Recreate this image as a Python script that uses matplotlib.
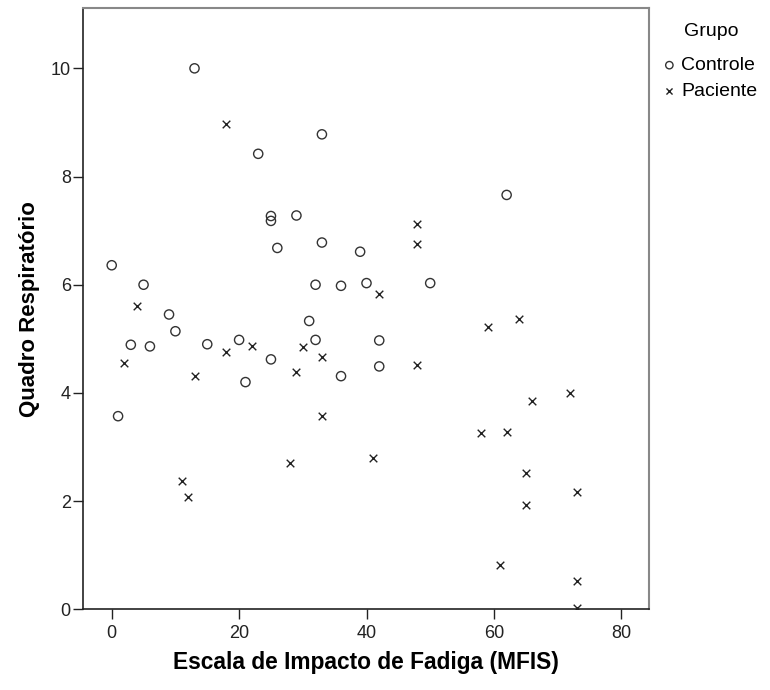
import matplotlib
matplotlib.use("Agg")
import matplotlib.pyplot as plt

plt.rcParams['font.family'] = ['Liberation Sans', 'DejaVu Sans']

# Controle group
ctrl_x = [13, 33, 23, 25, 25, 29, 26, 33, 0, 5, 32, 36, 39, 40, 50, 62,
          9, 31, 10, 3, 6, 15, 20, 21, 25, 32, 36, 1, 42, 42]
ctrl_y = [10.0, 8.78, 8.42, 7.27, 7.18, 7.28, 6.68, 6.78, 6.36, 6.0, 6.0, 5.98, 6.61, 6.03, 6.03, 7.66,
          5.45, 5.33, 5.14, 4.89, 4.86, 4.90, 4.98, 4.20, 4.62, 4.98, 4.31, 3.57, 4.97, 4.49]

# Paciente group
pac_x = [18, 48, 48, 4, 42, 64, 59, 2, 18, 22, 13, 30, 29, 33, 33, 48,
         11, 12, 28, 41, 72, 66, 58, 62, 65, 73, 65, 61, 73, 73]
pac_y = [8.97, 7.13, 6.76, 5.61, 5.83, 5.37, 5.21, 4.55, 4.76, 4.86, 4.31, 4.84, 4.39, 4.66, 3.57, 4.52,
         2.38, 2.08, 2.70, 2.80, 3.99, 3.85, 3.25, 3.27, 2.52, 2.16, 1.92, 0.81, 0.53, 0.02]

x_ticks = [0, 20, 40, 60, 80]
y_ticks = [0, 2, 4, 6, 8, 10]

fig = plt.figure(figsize=(7.7, 6.9), dpi=100)
ax = fig.add_axes([83.3 / 770, 1 - 609.3 / 690, (649 - 83.3) / 770, (609.3 - 8.3) / 690])

ax.scatter(ctrl_x, ctrl_y, s=44, marker='o', facecolors='none', edgecolors='#333333',
           linewidths=1.0, label='Controle', zorder=3)
ax.scatter(pac_x, pac_y, s=30, marker='x', color='#222222', linewidths=1.0,
           label='Paciente', zorder=3)

ax.set_xlim(-4.46, 84.35)
ax.set_ylim(0, 11.11)
ax.set_xticks(x_ticks)
ax.set_yticks(y_ticks)
ax.tick_params(direction='out', length=7, width=1.0, color='#222222',
               labelsize=13, labelcolor='#222222')
ax.tick_params(axis='y', pad=2)
ax.tick_params(axis='x', pad=4)

for side in ['left', 'bottom']:
    ax.spines[side].set_color('#222222')
    ax.spines[side].set_linewidth(1.2)
for side in ['top', 'right']:
    ax.spines[side].set_color('#888888')
    ax.spines[side].set_linewidth(1.5)

ax.set_xlabel('Escala de Impacto de Fadiga (MFIS)', fontsize=16.4, fontweight='bold', labelpad=7)
ax.set_ylabel('Quadro Respiratório', fontsize=16, fontweight='bold', labelpad=8)

leg = ax.legend(loc='upper left', bbox_to_anchor=(664 / 770, 1 - 23 / 690),
                bbox_transform=fig.transFigure, frameon=False, title='Grupo',
                fontsize=14, title_fontsize=14, handlelength=0.55, handletextpad=0.35,
                labelspacing=0.42, borderpad=0, borderaxespad=0, markerscale=0.8)
leg._legend_box.align = 'center'
leg._legend_box.sep = 12

fig.savefig('out.png', dpi=100)
